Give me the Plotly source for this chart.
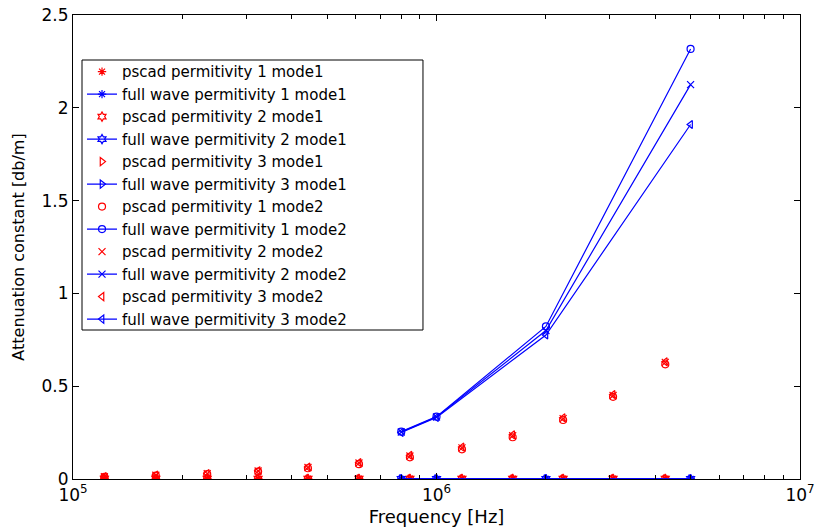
import plotly.graph_objects as go

# Frequencies [Hz]
freq_pscad = [1.22e5, 1.69e5, 2.34e5, 3.23e5, 4.43e5, 6.12e5, 8.45e5,
              1.175e6, 1.62e6, 2.23e6, 3.06e6, 4.26e6]
freq_full = [8e5, 1e6, 2e6, 5e6]

# Axis ticks
x_tick_vals = [1e5, 1e6, 1e7]
x_tick_text = ["10<sup>5</sup>", "10<sup>6</sup>", "10<sup>7</sup>"]

# Attenuation constant [db/m], mode 1
pscad_m1_p1 = [0.002] * 12
pscad_m1_p2 = [0.002] * 12
pscad_m1_p3 = [0.001] * 12
full_m1_p1 = [0.001, 0.001, 0.001, 0.001]
full_m1_p2 = [0.001, 0.001, 0.001, 0.001]
full_m1_p3 = [0.001, 0.001, 0.001, 0.001]

# Attenuation constant [db/m], mode 2
pscad_m2_p1 = [0.011, 0.018, 0.026, 0.040, 0.058, 0.080, 0.117, 0.160, 0.225, 0.318, 0.443, 0.618]
pscad_m2_p2 = [0.012, 0.020, 0.029, 0.043, 0.062, 0.086, 0.124, 0.168, 0.233, 0.325, 0.450, 0.628]
pscad_m2_p3 = [0.013, 0.021, 0.030, 0.045, 0.065, 0.089, 0.128, 0.172, 0.238, 0.330, 0.455, 0.632]
full_m2_p1 = [0.255, 0.336, 0.822, 2.317]
full_m2_p2 = [0.253, 0.334, 0.800, 2.125]
full_m2_p3 = [0.251, 0.331, 0.776, 1.910]

RED = "#ff0000"
BLUE = "#0000ff"
FONT = "DejaVu Sans"

series = [
    ("pscad permitivity 1 mode1", freq_pscad, pscad_m1_p1, "asterisk-open", False),
    ("full wave permitivity 1 mode1", freq_full, full_m1_p1, "asterisk-open", True),
    ("pscad permitivity 2 mode1", freq_pscad, pscad_m1_p2, "hexagram-open", False),
    ("full wave permitivity 2 mode1", freq_full, full_m1_p2, "hexagram-open", True),
    ("pscad permitivity 3 mode1", freq_pscad, pscad_m1_p3, "triangle-right-open", False),
    ("full wave permitivity 3 mode1", freq_full, full_m1_p3, "triangle-right-open", True),
    ("pscad permitivity 1 mode2", freq_pscad, pscad_m2_p1, "circle-open", False),
    ("full wave permitivity 1 mode2", freq_full, full_m2_p1, "circle-open", True),
    ("pscad permitivity 2 mode2", freq_pscad, pscad_m2_p2, "x-thin-open", False),
    ("full wave permitivity 2 mode2", freq_full, full_m2_p2, "x-thin-open", True),
    ("pscad permitivity 3 mode2", freq_pscad, pscad_m2_p3, "triangle-left-open", False),
    ("full wave permitivity 3 mode2", freq_full, full_m2_p3, "triangle-left-open", True),
]

fig = go.Figure()
for name, x, y, sym, full in series:
    color = BLUE if full else RED
    fig.add_trace(go.Scatter(
        x=x, y=y, name=name,
        mode="lines+markers" if full else "markers",
        line=dict(color=color, width=1.2),
        marker=dict(symbol=sym, size=7, color=color,
                    line=dict(color=color, width=1.2)),
    ))

axis_common = dict(
    showline=True, linecolor="black", linewidth=1.2, mirror="ticks",
    ticks="inside", ticklen=6, tickcolor="black", tickwidth=1,
    showgrid=False, zeroline=False, automargin=False,
    tickfont=dict(family=FONT, size=17, color="black"),
)

fig.update_xaxes(
    type="log", range=[5, 7], tickmode="array",
    tickvals=x_tick_vals, ticktext=x_tick_text,
    minor=dict(ticks="inside", ticklen=4, tickcolor="black", dtick="D1", showgrid=False),
    title=dict(text="Frequency [Hz]", font=dict(family=FONT, size=18, color="black"), standoff=6),
    **axis_common,
)
fig.update_yaxes(
    range=[0, 2.5], dtick=0.5,
    title=dict(text="Attenuation constant [db/m]", font=dict(family=FONT, size=16, color="black"), standoff=12),
    **axis_common,
)

# Legend frame drawn as a white box under the legend entries
fig.add_shape(
    type="rect", xref="paper", yref="paper",
    x0=0.0124, x1=0.4814, y0=0.3211, y1=0.903,
    line=dict(color="black", width=1), fillcolor="white", layer="above",
)

fig.update_layout(
    width=817, height=529,
    margin=dict(l=73, r=17, t=15, b=50),
    paper_bgcolor="white", plot_bgcolor="white",
    legend=dict(
        x=0.0124, y=0.913, xanchor="left", yanchor="top",
        bgcolor="rgba(0,0,0,0)", borderwidth=0,
        font=dict(family=FONT, size=15, color="black"),
        tracegroupgap=0,
    ),
)

fig.write_html("out.html")
